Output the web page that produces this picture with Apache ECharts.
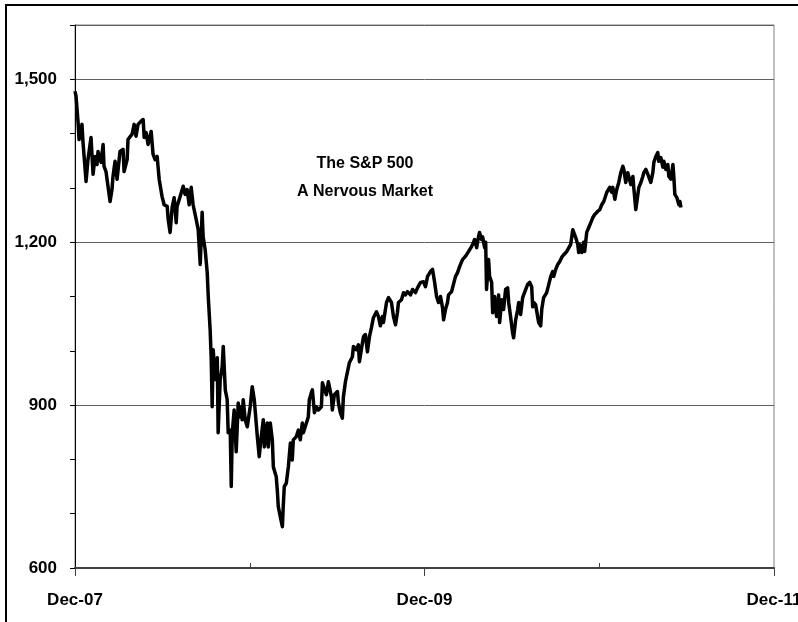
<!DOCTYPE html>
<html>
<head>
<meta charset="utf-8">
<script src="https://cdn.jsdelivr.net/npm/echarts@6/dist/echarts.min.js"></script>
<style>
  html, body { margin: 0; padding: 0; background: #fff; }
  #chart { width: 798px; height: 622px; }
</style>
</head>
<body>
<div id="chart"></div>
<script>
// months since Dec-07 for each reading, and the index level
var months = [0, 0.07, 0.21, 0.28, 0.48, 0.55, 0.76, 0.89, 1.10, 1.24, 1.38, 1.51, 1.58, 1.79, 1.93, 1.99, 2.13, 2.20, 2.41, 2.54,
  2.61, 2.75, 2.89, 3.09, 3.30, 3.37, 3.58, 3.64, 3.92, 4.06, 4.19, 4.33, 4.54, 4.68, 4.75, 4.88, 5.02, 5.23, 5.36, 5.50,
  5.64, 5.78, 5.98, 6.12, 6.33, 6.40, 6.53, 6.67, 6.81, 6.95, 7.01, 7.22, 7.43, 7.56, 7.70, 7.84, 7.98, 8.11, 8.32, 8.46,
  8.60, 8.73, 8.80, 8.94, 9.08, 9.15, 9.28, 9.35, 9.42, 9.49, 9.63, 9.77, 9.83, 9.97, 10.11, 10.18, 10.32, 10.45, 10.52, 10.66,
  10.73, 10.80, 10.93, 11.07, 11.21, 11.28, 11.42, 11.48, 11.55, 11.69, 11.83, 12.03, 12.17, 12.31, 12.52, 12.65, 12.79, 12.93, 13.00, 13.20,
  13.27, 13.41, 13.55, 13.62, 13.82, 13.89, 13.96, 14.10, 14.24, 14.30, 14.37, 14.51, 14.65, 14.79, 14.92, 14.99, 15.20, 15.34, 15.47, 15.61,
  15.68, 15.89, 16.02, 16.09, 16.23, 16.30, 16.44, 16.57, 16.71, 16.92, 16.99, 17.12, 17.26, 17.40, 17.61, 17.67, 17.81, 18.02, 18.09, 18.22,
  18.36, 18.43, 18.57, 18.77, 18.84, 19.05, 19.12, 19.32, 19.46, 19.53, 19.74, 19.81, 19.94, 20.08, 20.22, 20.36, 20.49, 20.70, 20.84, 20.97,
  21.11, 21.18, 21.39, 21.53, 21.73, 21.87, 22.01, 22.14, 22.21, 22.42, 22.56, 22.69, 22.83, 23.04, 23.18, 23.38, 23.52, 23.73, 23.93, 24.07,
  24.21, 24.41, 24.55, 24.69, 24.83, 24.96, 25.10, 25.24, 25.31, 25.44, 25.58, 25.65, 25.86, 25.99, 26.13, 26.27, 26.41, 26.61, 26.75, 26.89,
  27.03, 27.23, 27.37, 27.44, 27.58, 27.71, 27.78, 27.92, 27.99, 28.13, 28.20, 28.26, 28.40, 28.47, 28.61, 28.68, 28.81, 28.95, 29.09, 29.16,
  29.30, 29.43, 29.57, 29.71, 29.78, 29.91, 30.05, 30.12, 30.26, 30.40, 30.47, 30.60, 30.74, 30.81, 30.95, 31.08, 31.22, 31.36, 31.43, 31.50,
  31.63, 31.77, 31.84, 31.98, 32.05, 32.18, 32.39, 32.53, 32.67, 32.80, 32.87, 33.01, 33.15, 33.28, 33.42, 33.56, 33.77, 33.90, 34.04, 34.18,
  34.25, 34.39, 34.52, 34.59, 34.66, 34.80, 34.93, 35.00, 35.14, 35.28, 35.42, 35.55, 35.69, 35.90, 36.04, 36.17, 36.31, 36.52, 36.65, 36.72,
  36.86, 36.93, 37.07, 37.20, 37.34, 37.48, 37.62, 37.69, 37.82, 37.96, 38.03, 38.17, 38.31, 38.37, 38.51, 38.65, 38.72, 38.86, 38.99, 39.06,
  39.20, 39.34, 39.41, 39.54, 39.68, 39.75, 39.89, 40.02, 40.09, 40.23, 40.37, 40.44, 40.57, 40.71, 40.78, 40.92, 41.06, 41.12, 41.19, 41.33,
  41.40, 41.47, 41.54, 41.61];

var sp500 = [1478, 1469, 1421, 1389, 1417, 1384, 1312, 1352, 1393, 1325, 1358, 1343, 1367, 1347, 1380, 1340, 1330, 1316, 1275, 1297,
  1321, 1349, 1316, 1367, 1371, 1330, 1352, 1389, 1399, 1417, 1395, 1417, 1423, 1426, 1393, 1402, 1380, 1404, 1362, 1352,
  1358, 1316, 1284, 1269, 1266, 1242, 1218, 1264, 1282, 1236, 1266, 1284, 1303, 1288, 1297, 1269, 1301, 1269, 1242, 1223,
  1159, 1255, 1210, 1186, 1144, 1100, 1039, 989, 897, 1002, 947, 987, 849, 947, 971, 1008, 928, 910, 849, 854,
  750, 849, 891, 814, 904, 878, 897, 873, 910, 873, 860, 897, 934, 910, 842, 805, 842, 873, 823, 867,
  823, 867, 836, 786, 768, 744, 713, 694, 676, 713, 750, 756, 786, 830, 799, 836, 842, 854, 836, 867,
  849, 867, 878, 910, 923, 928, 886, 897, 891, 897, 941, 943, 919, 943, 915, 891, 919, 925, 904, 886,
  876, 915, 943, 969, 978, 989, 1008, 1002, 1011, 980, 1015, 1026, 1030, 998, 1026, 1043, 1061, 1072, 1063, 1046,
  1063, 1052, 1089, 1098, 1089, 1063, 1048, 1070, 1089, 1094, 1107, 1103, 1109, 1103, 1113, 1107, 1116, 1126, 1127, 1118,
  1137, 1146, 1150, 1127, 1100, 1089, 1100, 1079, 1057, 1076, 1089, 1103, 1109, 1107, 1137, 1144, 1155, 1168, 1172, 1177,
  1183, 1192, 1200, 1205, 1190, 1210, 1218, 1205, 1210, 1190, 1200, 1113, 1168, 1137, 1126, 1070, 1100, 1063, 1103, 1052,
  1094, 1076, 1113, 1116, 1089, 1063, 1033, 1024, 1057, 1076, 1089, 1067, 1098, 1103, 1113, 1122, 1126, 1118, 1081, 1089,
  1085, 1063, 1052, 1046, 1076, 1098, 1107, 1122, 1137, 1146, 1137, 1150, 1159, 1164, 1172, 1177, 1183, 1186, 1196, 1223,
  1220, 1208, 1196, 1181, 1196, 1181, 1200, 1183, 1218, 1227, 1236, 1245, 1251, 1257, 1260, 1269, 1275, 1292, 1293, 1301,
  1292, 1301, 1279, 1297, 1310, 1328, 1340, 1334, 1310, 1328, 1325, 1306, 1321, 1301, 1260, 1288, 1301, 1310, 1321, 1328,
  1334, 1325, 1328, 1310, 1328, 1347, 1358, 1365, 1349, 1356, 1338, 1349, 1334, 1343, 1321, 1316, 1343, 1321, 1288, 1282,
  1284, 1269, 1275, 1264];

var xLabels = { 0: 'Dec-07', 24: 'Dec-09', 48: 'Dec-11' };
var yearTicks = ['0', '12', '24', '36', '48'];

var chartDom = document.getElementById('chart');
var myChart = echarts.init(chartDom);
var option;

var pts = [];
for (var i = 0; i < months.length; i++) {
  pts.push([months[i], sp500[i]]);
}

var fnt = 'Liberation Sans, Arial, sans-serif';

option = {
  animation: false,
  backgroundColor: '#fff',
  title: {
    text: 'The S&P 500\nA Nervous Market',
    left: 360,
    top: 145,
    textAlign: 'center',
    textStyle: { fontFamily: fnt, fontWeight: 'bold', fontSize: 16, lineHeight: 28, color: '#000' }
  },
  graphic: [
    {
      type: 'rect',
      shape: { x: 6, y: 5, width: 820, height: 640 },
      style: { fill: 'none', stroke: '#000', lineWidth: 2 },
      silent: true
    }
  ],
  grid: {
    left: 75, right: 24, top: 25, bottom: 54,
    outerBoundsMode: 'none',
    containLabel: false,
    show: true, borderColor: '#808080', borderWidth: 1
  },
  xAxis: [
    {
      type: 'value',
      min: 0, max: 48, interval: 24,
      axisLine: { show: true, lineStyle: { color: '#404040', width: 2 } },
      axisTick: { show: true, length: 8, lineStyle: { color: '#404040' } },
      splitLine: { show: false },
      axisLabel: {
        margin: 24,
        hideOverlap: false,
        fontFamily: fnt, fontWeight: 'bold', fontSize: 17, color: '#000',
        formatter: function (v) { return xLabels[v] || ''; }
      }
    },
    {
      type: 'category',
      position: 'bottom',
      data: yearTicks,
      boundaryGap: false,
      axisLine: { show: false },
      axisLabel: { show: false },
      axisTick: {
        show: true, inside: true, length: 5,
        interval: function (idx) { return idx % 2 === 1; },
        lineStyle: { color: '#404040' }
      },
      splitLine: { show: false }
    }
  ],
  yAxis: [
    {
      type: 'value',
      min: 600, max: 1600, interval: 300,
      axisLine: { show: true, lineStyle: { color: '#000', width: 1 } },
      axisTick: { show: false },
      splitLine: { show: true, lineStyle: { color: '#606060', width: 1 } },
      axisLabel: {
        margin: 18,
        fontFamily: fnt, fontWeight: 'bold', fontSize: 17, color: '#000',
        formatter: function (v) {
          return v % 300 === 0 ? v.toLocaleString('en-US') : '';
        }
      }
    },
    {
      type: 'value',
      min: 600, max: 1600, interval: 100,
      position: 'left',
      axisLine: { show: false },
      axisTick: { show: true, length: 5, lineStyle: { color: '#000' } },
      axisLabel: { show: false },
      splitLine: { show: false }
    }
  ],
  series: [
    {
      name: 'S&P 500',
      type: 'line',
      xAxisIndex: 0,
      yAxisIndex: 0,
      data: pts,
      showSymbol: false,
      symbol: 'none',
      lineStyle: { color: '#000', width: 3.5, join: 'round' }
    }
  ]
};

option && myChart.setOption(option);
</script>
</body>
</html>
